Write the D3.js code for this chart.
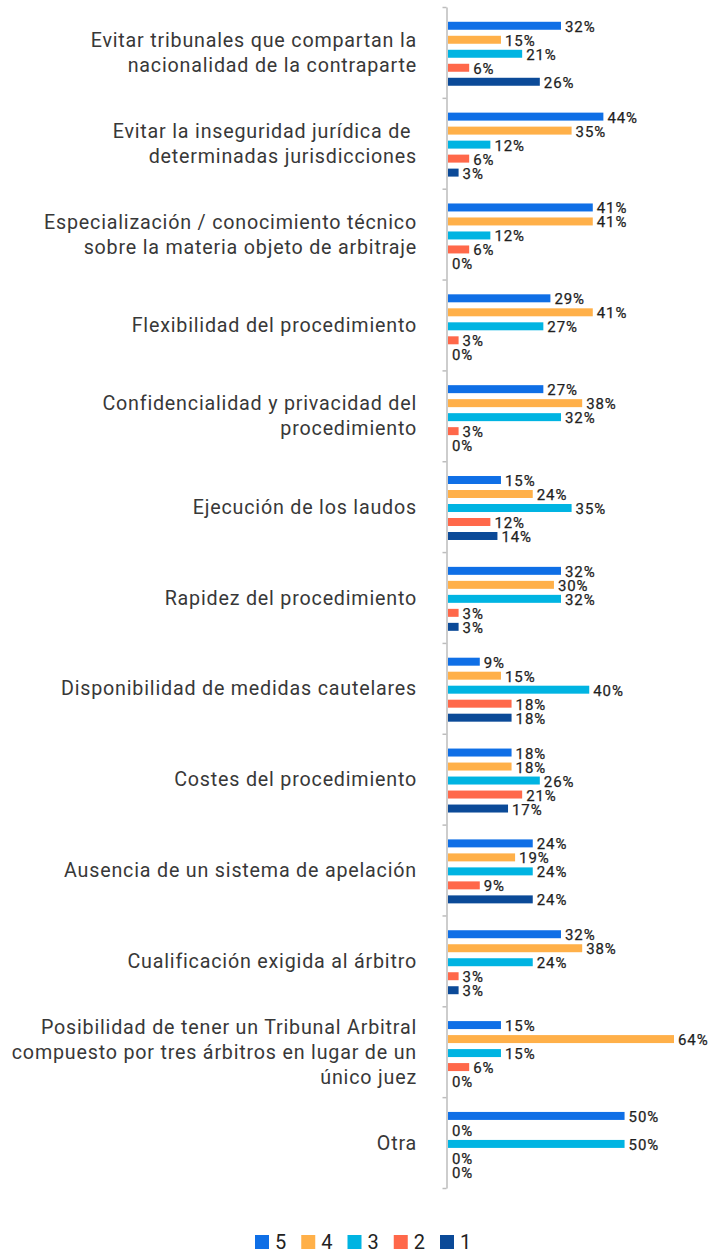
<!DOCTYPE html>
<html>
<head>
<meta charset="utf-8">
<script src="https://cdnjs.cloudflare.com/ajax/libs/d3/7.8.5/d3.min.js"></script>
<style>
  body{margin:0;background:#fff;}
  svg{display:block;font-family:Roboto,"Noto Sans",Arial,sans-serif;}
</style>
</head>
<body>
<svg id="chart" width="714" height="1253"></svg>
<script>
// categories (each entry = lines of the label)
var categories=[
  ["Evitar tribunales que compartan la","nacionalidad de la contraparte"],
  ["Evitar la inseguridad jurídica de\u00a0","determinadas jurisdicciones"],
  ["Especialización / conocimiento técnico","sobre la materia objeto de arbitraje"],
  ["Flexibilidad del procedimiento"],
  ["Confidencialidad y privacidad del","procedimiento"],
  ["Ejecución de los laudos"],
  ["Rapidez del procedimiento"],
  ["Disponibilidad de medidas cautelares"],
  ["Costes del procedimiento"],
  ["Ausencia de un sistema de apelación"],
  ["Cualificación exigida al árbitro"],
  ["Posibilidad de tener un Tribunal Arbitral","compuesto por tres árbitros en lugar de un","único juez"],
  ["Otra"]
];
var seriesKeys=["5","4","3","2","1"];
var seriesColors=["#0f6fe6","#ffb049","#00b4e2","#ff684a","#0b4a98"];
var values5=[32,44,41,29,27,15,32,9,18,24,32,15,50];
var values4=[15,35,41,41,38,24,30,15,18,19,38,64,0];
var values3=[21,12,12,27,32,35,32,40,26,24,24,15,50];
var values2=[6,6,6,3,3,12,3,18,21,9,3,6,0];
var values1=[26,3,0,0,0,14,3,18,17,24,3,0,0];
var seriesValues=[values5,values4,values3,values2,values1];

var svg=d3.select("#chart");
var catIdx=d3.range(categories.length);

//scales
var y0=d3.scaleBand().domain(catIdx).range([7,1188]).padding(0);
var y1=d3.scaleBand().domain(seriesKeys).range([0,y0.bandwidth()])
  .paddingInner(0.43).paddingOuter(0.96).align(0.55);
var x=d3.scaleLinear().domain([0,64]).range([448,674]);
var color=d3.scaleOrdinal().domain(seriesKeys).range(seriesColors);

//axis (ticks at category boundaries)
var axisScale=d3.scaleLinear().domain([0,categories.length]).range([7,1188]);
svg.append("g")
  .attr("transform","translate(446.5,0)")
  .call(d3.axisLeft(axisScale).tickValues(d3.range(categories.length+1))
    .tickSize(4).tickSizeOuter(0).tickFormat(""))
  .call(function(g){
    g.selectAll("path,line").attr("stroke","#bdbdbd").attr("stroke-width",1.5);
  });

//category labels
var lineH=25;
var catG=svg.append("g").attr("class","cats");
categories.forEach(function(lines,i){
  var cy=y0(i)+y0.bandwidth()/2;
  var t=catG.append("text")
    .attr("text-anchor","end")
    .attr("font-size",19.7)
    .attr("letter-spacing",0.8)
    .attr("fill","#383838");
  lines.forEach(function(l,j){
    t.append("tspan")
      .attr("x",417)
      .attr("y",cy+(j-(lines.length-1)/2)*lineH+7)
      .text(l);
  });
});

//bars
var rows=[];
catIdx.forEach(function(i){
  seriesKeys.forEach(function(k,s){
    rows.push({cat:i,key:k,value:seriesValues[s][i]});
  });
});

var groups=svg.append("g").attr("class","bars");
groups.selectAll("rect")
  .data(rows)
  .enter().append("rect")
    .attr("x",x(0))
    .attr("y",function(d){return y0(d.cat)+y1(d.key);})
    .attr("width",function(d){return x(d.value)-x(0);})
    .attr("height",y1.bandwidth())
    .attr("fill",function(d){return color(d.key);});

groups.selectAll("text")
  .data(rows)
  .enter().append("text")
    .attr("x",function(d){return x(d.value)+4;})
    .attr("y",function(d){return y0(d.cat)+y1(d.key)+y1.bandwidth()/2+1;})
    .attr("dominant-baseline","central")
    .attr("font-size",15)
    .attr("letter-spacing",0.9)
    .attr("fill","#1f1f1f")
    .attr("stroke","#1f1f1f")
    .attr("stroke-width",0.25)
    .text(function(d){return d.value+"%";});

//legend
var legX=d3.scalePoint().domain(seriesKeys).range([255,440]);
var leg=svg.append("g").attr("class","legend");
var li=leg.selectAll("g").data(seriesKeys).enter().append("g")
  .attr("transform",function(d){return "translate("+legX(d)+",1235)";});
li.append("rect").attr("width",14).attr("height",14).attr("fill",function(d){return color(d);});
li.append("text").attr("x",20).attr("y",14).attr("font-size",20).attr("fill","#222").text(function(d){return d;});
</script>
</body>
</html>
